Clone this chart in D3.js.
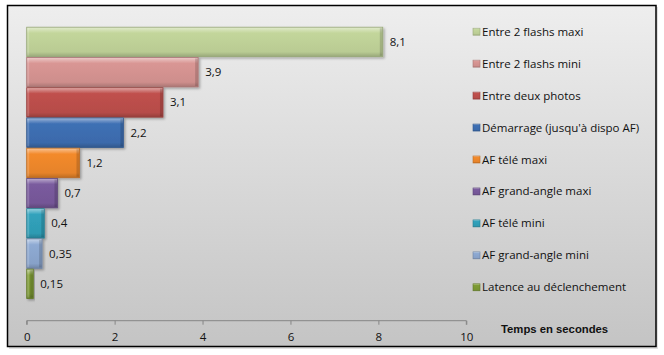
<!DOCTYPE html>
<html><head><meta charset="utf-8">
<script src="https://cdn.jsdelivr.net/npm/d3@7"></script>
<style>html,body{margin:0;padding:0;background:#fff;}svg{display:block;}</style>
</head><body>
<script>
const categories = ["Entre 2 flashs maxi","Entre 2 flashs mini","Entre deux photos","Démarrage (jusqu'à dispo AF)","AF télé maxi","AF grand-angle maxi","AF télé mini","AF grand-angle mini","Latence au déclenchement"];
const values = [8.1, 3.9, 3.1, 2.2, 1.2, 0.7, 0.4, 0.35, 0.15];
const valueLabels = ["8,1","3,9","3,1","2,2","1,2","0,7","0,4","0,35","0,15"];
const colors = ["#c3d69b","#d99694","#c0504d","#3e70b4","#f38a2c","#7a5b9e","#31a2bc","#8eaad3","#7f9c35"];
const xTicks = [0,2,4,6,8,10];
const axisTitle = "Temps en secondes";

const W = 664, H = 355;
const FONT = "Open Sans, Liberation Sans, Arial, sans-serif";
const svg = d3.select("body").append("svg").attr("width", W).attr("height", H);
const defs = svg.append("defs");

const bg = defs.append("linearGradient").attr("id","bg").attr("x1",0).attr("y1",0).attr("x2",0).attr("y2",1);
bg.append("stop").attr("offset","0%").attr("stop-color","#eeeeee");
bg.append("stop").attr("offset","100%").attr("stop-color","#c4c4c4");

const sh = defs.append("filter").attr("id","sh").attr("x","-10%").attr("y","-10%").attr("width","130%").attr("height","140%");
sh.append("feDropShadow").attr("dx",1.5).attr("dy",1.5).attr("stdDeviation",1.2).attr("flood-color","#000").attr("flood-opacity",0.3);

colors.forEach((c,i)=>{
  const base = d3.color(c);
  const g = defs.append("linearGradient").attr("id","g"+i).attr("x1",0).attr("y1",0).attr("x2",0).attr("y2",1);
  g.append("stop").attr("offset","0%").attr("stop-color", d3.interpolateRgb(c,"#fff")(0.5));
  g.append("stop").attr("offset","14%").attr("stop-color", d3.interpolateRgb(c,"#fff")(0.15));
  g.append("stop").attr("offset","20%").attr("stop-color", c);
  g.append("stop").attr("offset","84%").attr("stop-color", base.darker(0.15));
  g.append("stop").attr("offset","100%").attr("stop-color", base.darker(0.7));
});

// chart area with border
svg.append("rect").attr("x",9).attr("y",7).attr("width",649).attr("height",342).attr("fill","#000").attr("opacity",0.12);
svg.append("rect").attr("x",7.5).attr("y",5.5).attr("width",648.5).attr("height",341).attr("fill","url(#bg)").attr("stroke","#000").attr("stroke-width",1.5);

const x = d3.scaleLinear().domain([0,10]).range([26.7, 466.3]);
const y = d3.scaleBand().domain(categories).range([27.2, 298.6]).paddingInner(0.025).paddingOuter(0);

// bars
const bars = svg.append("g");
bars.selectAll("rect.bar").data(values).enter().append("rect")
  .attr("class","bar")
  .attr("x", x(0))
  .attr("y", (d,i)=>y(categories[i]))
  .attr("width", d=>x(d)-x(0))
  .attr("height", y.bandwidth())
  .attr("fill",(d,i)=>"url(#g"+i+")")
  .attr("stroke",(d,i)=>d3.color(colors[i]).darker(0.7))
  .attr("stroke-width",0.8)
  .attr("filter","url(#sh)");
// right bevel shading
bars.selectAll("rect.rb").data(values).enter().append("rect")
  .attr("x", d=>x(d)-3)
  .attr("y", (d,i)=>y(categories[i])+1)
  .attr("width", 2.6)
  .attr("height", y.bandwidth()-2)
  .attr("fill","#000").attr("opacity",0.15);
// left bevel highlight
bars.selectAll("rect.lb").data(values).enter().append("rect")
  .attr("x", x(0)+0.5)
  .attr("y", (d,i)=>y(categories[i])+1)
  .attr("width", 2)
  .attr("height", y.bandwidth()-2)
  .attr("fill","#fff").attr("opacity",0.18);

// value labels
svg.append("g").selectAll("text").data(values).enter().append("text")
  .attr("x", d=>x(d)+7)
  .attr("y", (d,i)=>y(categories[i])+y.bandwidth()/2)
  .attr("dy","0.35em")
  .attr("font-family",FONT)
  .attr("font-size","11.5px")
  .attr("fill","#111")
  .text((d,i)=>valueLabels[i]);

// x axis
const ax = svg.append("g").attr("transform","translate(0,320.7)")
  .call(d3.axisBottom(x).tickValues(xTicks).tickSize(4).tickFormat(d3.format("d")).tickPadding(8));
ax.select(".domain").attr("stroke","#868686").attr("d", "M"+x(0)+",4V0H"+x(10)+"V4");
ax.selectAll(".tick line").attr("stroke","#868686");
ax.selectAll(".tick text").attr("font-family",FONT).attr("font-size","11.5px").attr("fill","#111");

svg.append("text").attr("x",501).attr("y",329).attr("dy","0.35em")
  .attr("font-family","Liberation Sans, Arial, sans-serif").attr("font-size","11.3px").attr("font-weight","bold").attr("fill","#111")
  .text(axisTitle);

// legend
const ly = d3.scaleLinear().domain([0,8]).range([31.7, 287.3]);
const leg = svg.append("g");
const items = leg.selectAll("g").data(categories).enter().append("g")
  .attr("transform",(d,i)=>"translate(473,"+ly(i)+")");
items.append("rect").attr("x",0).attr("y",-3.5).attr("width",7).attr("height",7)
  .attr("fill",(d,i)=>"url(#g"+i+")").attr("stroke",(d,i)=>d3.color(colors[i]).darker(0.7)).attr("stroke-width",0.6);
items.append("text").attr("x",9).attr("y",0).attr("dy","0.35em")
  .attr("font-family",FONT).attr("font-size","11.5px").attr("fill","#111")
  .text(d=>d);
</script>
</body></html>
